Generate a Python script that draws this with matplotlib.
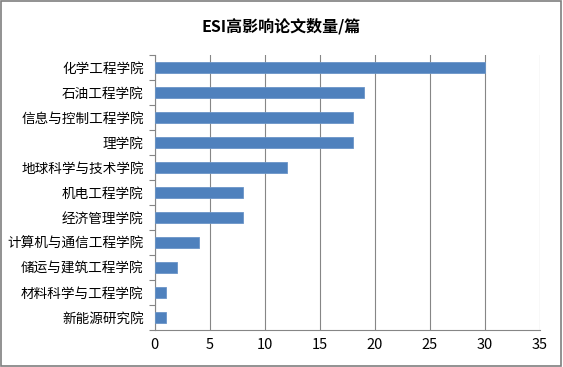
import matplotlib.pyplot as plt
from matplotlib.patches import Rectangle

plt.rcParams['font.family'] = ['Noto Sans CJK SC', 'DejaVu Sans']

# data, top to bottom as shown
colleges = ['化学工程学院', '石油工程学院', '信息与控制工程学院', '理学院',
            '地球科学与技术学院', '机电工程学院', '经济管理学院',
            '计算机与通信工程学院', '储运与建筑工程学院', '材料科学与工程学院',
            '新能源研究院']
papers = [30, 19, 18, 18, 12, 8, 8, 4, 2, 1, 1]
xticks = [0, 5, 10, 15, 20, 25, 30, 35]

fig = plt.figure(figsize=(5.63, 3.67), dpi=100)
ax = fig.add_axes([0.275, 0.101, 0.684, 0.749])

ypos = list(range(len(colleges)))[::-1]
ax.barh(ypos, papers, height=0.42, color='#4F81BD', edgecolor='#6B95C8',
        linewidth=0.6, zorder=3)

ax.set_xlim(0, 35)
ax.set_ylim(-0.5, len(colleges) - 0.5)
ax.set_xticks(xticks)
ax.set_yticks(ypos)
ax.set_yticklabels(colleges)
ax.tick_params(axis='x', length=0, labelsize=10.5, pad=6)
ax.tick_params(axis='y', length=0, labelsize=9.8, pad=8)
# small tick marks between categories like Excel
ax.set_yticks([i - 0.5 for i in range(len(colleges) + 1)], minor=True)
ax.tick_params(axis='y', which='minor', length=4, color='#868686', width=0.8)

ax.grid(axis='x', color='#868686', linewidth=0.8, zorder=0)
for side in ['top', 'right']:
    ax.spines[side].set_visible(False)
ax.spines['left'].set_color('#868686')
ax.spines['bottom'].set_color('#868686')

fig.suptitle('ESI高影响论文数量/篇', fontsize=11.5, fontweight='bold', y=0.95)

fig.patches.append(Rectangle((0.002, 0.004), 0.995, 0.992, transform=fig.transFigure,
                             fill=False, edgecolor='#7F7F7F', linewidth=1.2))

fig.savefig('out.png', dpi=100)
